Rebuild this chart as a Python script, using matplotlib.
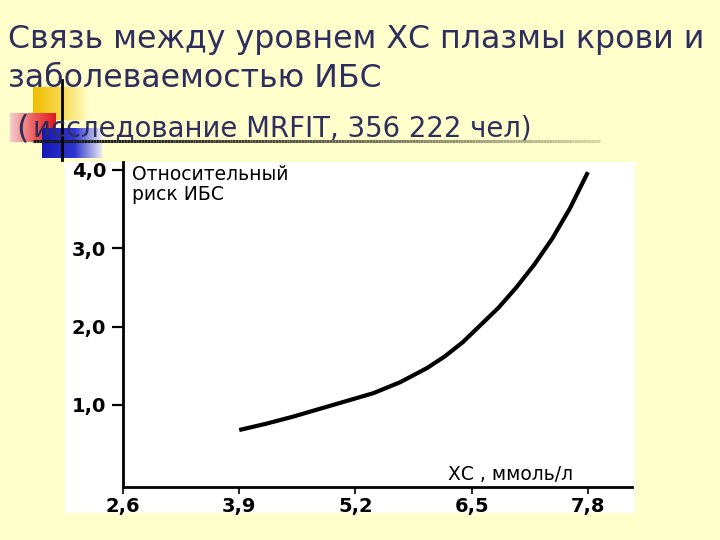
import numpy as np
import matplotlib
matplotlib.use("Agg")
import matplotlib.pyplot as plt
from matplotlib.patches import Rectangle

# ---- data ----
chol = [3.9, 4.2, 4.5, 4.8, 5.1, 5.4, 5.7, 6.0, 6.2, 6.4, 6.6, 6.8, 7.0, 7.2, 7.4, 7.6, 7.8]
risk = [0.68, 0.76, 0.85, 0.95, 1.05, 1.15, 1.29, 1.47, 1.62, 1.80, 2.02, 2.24, 2.50, 2.79, 3.12, 3.51, 3.97]
x_ticks = [2.6, 3.9, 5.2, 6.5, 7.8]
x_tick_labels = ["2,6", "3,9", "5,2", "6,5", "7,8"]
y_ticks = [1.0, 2.0, 3.0, 4.0]
y_tick_labels = ["1,0", "2,0", "3,0", "4,0"]

title_line1 = "Связь между уровнем ХС плазмы крови и"
title_line2 = "заболеваемостью ИБС"
subtitle = "исследование MRFIT, 356 222 чел)"
y_label = "Относительный\nриск ИБС"
x_label = "ХС , ммоль/л"

BG = "#FFFFCC"
TITLE_C = "#2E2E5E"

W, H = 720, 540
fig = plt.figure(figsize=(7.2, 5.4), dpi=100, facecolor=BG)

# full-figure decoration axes in pixel coordinates
deco = fig.add_axes([0, 0, 1, 1], zorder=0)
deco.set_xlim(0, W)
deco.set_ylim(H, 0)
deco.axis("off")
deco.set_facecolor(BG)

def grad_rect(ax, x0, x1, y0, y1, stops, z=1):
    n = 128
    t = np.linspace(0, 1, n)
    pos = np.array([p for p, _ in stops])
    cols = np.array([matplotlib.colors.to_rgba(c) for _, c in stops])
    img = np.stack([np.interp(t, pos, cols[:, k]) for k in range(4)], axis=1)
    ax.imshow(img[None, :, :], extent=(x0, x1, y1, y0), aspect="auto",
              zorder=z, interpolation="bilinear")

# yellow square
grad_rect(deco, 33, 90, 87, 120, [(0, "#F0BE00"), (0.5, "#F7D850"), (1, "#FFFFCC")], z=1)
# red square
grad_rect(deco, 10, 56, 113, 142, [(0, "#F5D0D0"), (0.5, "#EE6060"), (1, "#E01820")], z=2)
# blue square
grad_rect(deco, 42, 102, 128, 158, [(0, "#1818B8"), (0.55, "#3038D0"), (1, "#E8E8F0")], z=3)
# horizontal fading line
n = 200
t = np.linspace(0, 1, n)
xs = 33 + t * (600 - 33)
for i in range(n - 1):
    k = t[i] ** 1.5
    c = (0.1 + 0.75 * k, 0.1 + 0.75 * k, 0.1 + 0.55 * k)
    deco.plot([xs[i], xs[i + 1]], [141, 141], color=c, lw=2.2, zorder=4,
              solid_capstyle="butt")
# vertical line
deco.plot([62, 62], [80, 160], color="black", lw=2, zorder=4)

# white chart panel
deco.add_patch(Rectangle((65, 162), 570, 351, facecolor="white",
                         edgecolor="none", zorder=1))

# title text
fig.text(8 / W, 1 - 48 / H, title_line1, fontsize=22.8, color=TITLE_C,
         ha="left", va="baseline", family="DejaVu Sans")
fig.text(8 / W, 1 - 87 / H, title_line2, fontsize=22.8, color=TITLE_C,
         ha="left", va="baseline", family="DejaVu Sans")
fig.text(16 / W, 1 - 137 / H, "(", fontsize=23, color=TITLE_C,
         ha="left", va="baseline", family="DejaVu Sans", zorder=5)
fig.text(33 / W, 1 - 136 / H, subtitle, fontsize=19.8, color=TITLE_C,
         ha="left", va="baseline", family="DejaVu Sans", zorder=5)

# chart axes
ax = fig.add_axes([123 / W, 1 - 487 / H, 509 / W, 325 / H], zorder=2)
ax.patch.set_alpha(0)
ax.plot(chol, risk, color="black", lw=3.0, solid_capstyle="butt",
        solid_joinstyle="round")
ax.set_xlim(2.6, 2.6 + 509 / 89.4)
ax.set_ylim(-0.047, 4.10)
for s in ["top", "right"]:
    ax.spines[s].set_visible(False)
for s in ["left", "bottom"]:
    ax.spines[s].set_linewidth(2.0)
    ax.spines[s].set_color("black")
ax.set_xticks(x_ticks)
ax.set_xticklabels(x_tick_labels, fontsize=14, fontweight="bold")
ax.set_yticks(y_ticks)
ax.set_yticklabels(y_tick_labels, fontsize=14, fontweight="bold")
ax.tick_params(axis="y", direction="out", length=8, width=1.6, pad=4)
ax.tick_params(axis="x", direction="out", length=5, width=1.2, pad=2)

fig.text(132 / W, 1 - 165 / H, y_label, fontsize=13.5, color="black",
         ha="left", va="top", linespacing=1.1, zorder=6)
fig.text(510 / W, 1 - 474 / H, x_label, fontsize=13.5, color="black",
         ha="center", va="center", zorder=6)

fig.savefig("out.png", dpi=100, facecolor=BG)
